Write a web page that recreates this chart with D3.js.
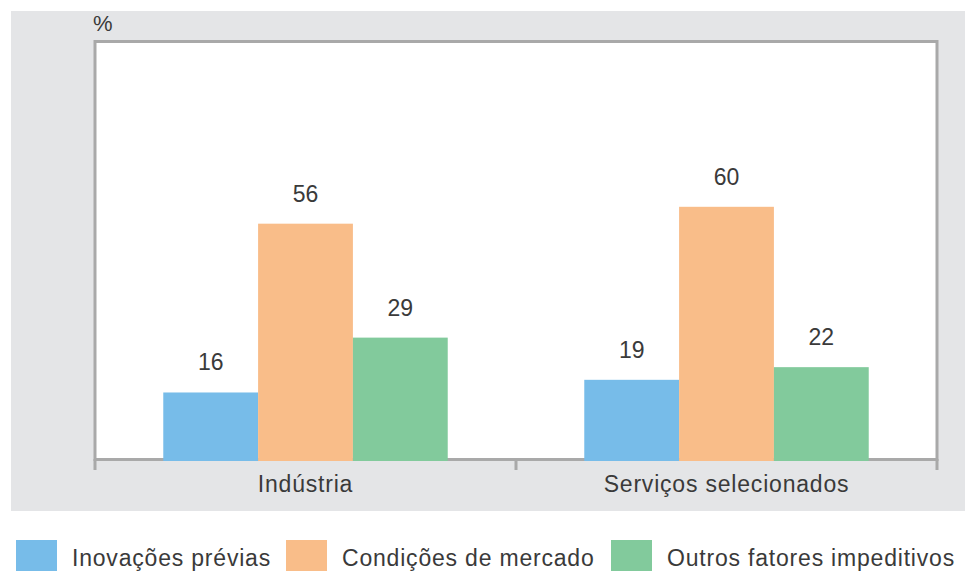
<html>
  <head>
    <meta charset="utf-8">
  </head>
  <script src="https://d3js.org/d3.v7.min.js"></script>
  <style>
    body { margin: 0; background: #fff; }
    text { font-family: 'Liberation Sans', Arial, sans-serif; fill: #3a3a3a; }
  </style>
  <body>
    <svg id="vis" width="965" height="571"></svg>
    <script>
      categories = ['Indústria', 'Serviços selecionados']
      series = ['Inovações prévias', 'Condições de mercado', 'Outros fatores impeditivos']
      colors = ['#77bce9', '#f9bd89', '#82ca9c']
      values = [
        [16, 56, 29],
        [19, 60, 22]
      ]
      unit = '%'

      var svg = d3.select("#vis")

      // gray panel behind the plot
      svg.append("rect")
        .attr("x", 11).attr("y", 11)
        .attr("width", 954).attr("height", 500)
        .style("fill", "#e4e5e7")

      var x0 = d3.scaleBand()
        .domain(categories)
        .range([95, 937])

      var x1 = d3.scaleBand()
        .domain(series)
        .range([0, x0.bandwidth()])
        .paddingOuter(0.72)

      var y = d3.scaleLinear()
        .domain([0, 100])
        .range([460, 38])

      // white plot area with frame
      svg.append("rect")
        .attr("x", 95).attr("y", 41.5)
        .attr("width", 842).attr("height", 418)
        .style("fill", "#fff")
        .style("stroke", "#a9a9a9")
        .style("stroke-width", 3)

      // category separators as ticks
      var edges = categories.map(c => x0(c)).concat([x0.range()[1]])
      svg.selectAll(".sep").data(edges).enter().append("line")
        .attr("x1", d => d).attr("x2", d => d)
        .attr("y1", 459).attr("y2", 470)
        .style("stroke", "#a9a9a9")
        .style("stroke-width", 3)

      var g = svg.selectAll(".grp").data(categories).enter().append("g")
        .attr("transform", d => `translate(${x0(d)},0)`)

      g.selectAll("rect").data((d, i) => values[i].map((v, j) => ({s: series[j], v: v, c: colors[j]})))
        .enter().append("rect")
        .attr("x", d => x1(d.s))
        .attr("y", d => y(d.v))
        .attr("width", x1.bandwidth())
        .attr("height", d => 461 - y(d.v))
        .style("fill", d => d.c)

      g.selectAll(".val").data((d, i) => values[i].map((v, j) => ({s: series[j], v: v})))
        .enter().append("text")
        .attr("x", d => x1(d.s) + x1.bandwidth() / 2)
        .attr("y", d => y(d.v) - 22)
        .attr("text-anchor", "middle")
        .style("font-size", "23px")
        .text(d => d.v)

      g.append("text")
        .attr("x", x0.bandwidth() / 2)
        .attr("y", 492)
        .attr("text-anchor", "middle")
        .style("font-size", "23px")
        .style("letter-spacing", "0.8px")
        .text(d => d)

      svg.append("text")
        .attr("x", 93).attr("y", 31)
        .style("font-size", "22px")
        .text(unit)

      // legend
      var legX = [16, 286, 611]
      var lg = svg.selectAll(".leg").data(series).enter().append("g")
        .attr("transform", (d, i) => `translate(${legX[i]},540)`)
      lg.append("rect")
        .attr("width", 41).attr("height", 31)
        .style("fill", (d, i) => colors[i])
      lg.append("text")
        .attr("x", 56).attr("y", 26)
        .style("font-size", "23px")
        .style("letter-spacing", "0.8px")
        .text(d => d)
    </script>
  </body>
</html>
